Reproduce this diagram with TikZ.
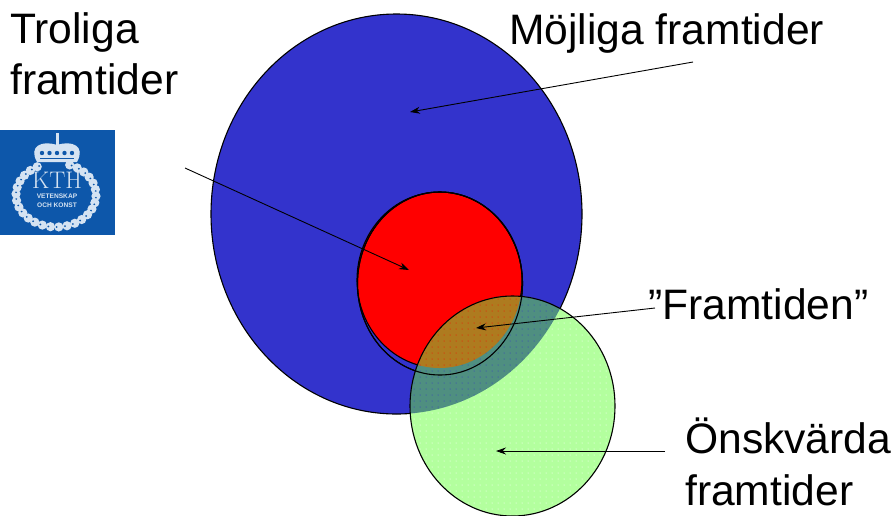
\documentclass[tikz,border=0pt]{standalone}
\usepackage{fontspec}
\setmainfont{Liberation Sans}
\usepackage{tikz}
\usetikzlibrary{
  arrows.meta,
  patterns.meta
}
\definecolor{futBlue}{HTML}{3333CC}
\definecolor{futRed}{HTML}{FF0000}
\definecolor{futGreen}{HTML}{B3FF9E}
\definecolor{futTeal}{HTML}{4F8F80}
\definecolor{futBrown}{HTML}{AE7B1F}
\definecolor{kthBlue}{HTML}{0D57AA}
\definecolor{kthPale}{HTML}{D5E3F2}

\begin{document}
\begin{tikzpicture}[x=1pt,y=-1pt,
  setline/.style={draw=black, line width=1.1pt},
  pointer/.style={draw=black, line width=0.9pt, -{Stealth[length=10pt,width=7pt]}},
  bigtext/.style={font=\fontsize{42.6}{51}\selectfont, anchor=base west, align=left, inner sep=0pt},
  crest/.style={text=kthPale, inner sep=0pt}]
  \useasboundingbox (0,0) rectangle (893,515);
  \clip (0,0) rectangle (893,515);

  % the three sets
  \path[fill=futBlue, setline] (396.5,214) ellipse [x radius=185.5, y radius=200];
  \path[fill=futRed] (439.5,280) ellipse [x radius=82.5, y radius=88];
  \draw[setline] (439.5,280) ellipse [x radius=82.5, y radius=88];
  \draw[setline] (440,283.5) ellipse [x radius=82.5, y radius=91.5];
  \path[fill=futGreen] (512.5,406) ellipse [x radius=102.5, y radius=110];
  \path[pattern={Dots[distance=6pt,radius=0.5pt]}, pattern color=white]
    (512.5,406) ellipse [x radius=102.5, y radius=110];

  % overlaps
  \begin{scope}
    \clip (396.5,214) ellipse [x radius=185.5, y radius=200];
    \clip (512.5,406) ellipse [x radius=102.5, y radius=110];
    \fill[futTeal] (300,250) rectangle (640,450);
    \fill[pattern={Dots[distance=6pt,radius=0.5pt]}, pattern color=futBlue] (300,250) rectangle (640,450);
  \end{scope}
  \begin{scope}
    \clip (439.5,280) ellipse [x radius=82.5, y radius=88];
    \clip (512.5,406) ellipse [x radius=102.5, y radius=110];
    \fill[futBrown] (300,250) rectangle (640,450);
    \fill[pattern={Dots[distance=6pt,radius=0.5pt]}, pattern color=futRed] (300,250) rectangle (640,450);
  \end{scope}

  \draw[setline] (440,283.5) ellipse [x radius=82.5, y radius=91.5];
  \draw[setline] (512.5,406) ellipse [x radius=102.5, y radius=110];

  % labels
  \node[bigtext] (troliga) at (10,43) {Troliga};
  \node[bigtext] (troliga2) at (10,94) {framtider};
  \node[bigtext] (mojliga) at (509,44) {Möjliga framtider};
  \node[bigtext] (framtiden) at (648,319) {”Framtiden”};
  \node[bigtext] (onskvarda) at (685,453) {Önskvärda};
  \node[bigtext] (onskvarda2) at (685,505) {framtider};

  % arrows
  \coordinate (aTroliga) at (185,168);
  \coordinate (tTroliga) at (409,270);
  \coordinate (aMojliga) at (693,62);
  \coordinate (tMojliga) at (410,112);
  \coordinate (aFramtid) at (655,308);
  \coordinate (tFramtid) at (476,328);
  \coordinate (aOnsk) at (665,451);
  \coordinate (tOnsk) at (496,451);
  \foreach \a/\b in {aTroliga/tTroliga,aMojliga/tMojliga,aFramtid/tFramtid,aOnsk/tOnsk} {
    \draw[pointer] (\a) -- (\b);
  }

  % logo
  \fill[kthBlue] (0,130) rectangle (115,235);
  \foreach \t in {-70,-58,...,250} {
    \fill[kthPale] ({56+40*cos(\t)},{195+32*sin(\t)}) circle (4.6);
    \fill[kthBlue] ({56+40*cos(\t+3)},{195+32*sin(\t+3)}) circle (1);
    \fill[kthBlue] ({56+44.5*cos(\t+8)},{195+36.5*sin(\t+8)}) circle (0.9);
  }
  % crown
  \fill[kthPale] (37,162) .. controls (28,146) and (42,140) .. (57,145)
    .. controls (72,140) and (86,146) .. (77,162) -- cycle;
  \foreach \x in {42,49.5,57,64.5,72} {
    \fill[kthBlue] (\x,153) circle (2.2);
  }
  \fill[kthBlue] (40,158) rectangle (74,159.2);
  \fill[kthPale] (55.5,133) rectangle (58.5,146);
  \node[crest, font=\fontfamily{lmr}\fontsize{24}{24}\selectfont] (kth) at (57,180) {KTH};
  \node[crest, font=\bfseries\fontsize{6.6}{7}\selectfont] (vet) at (57,196) {VETENSKAP};
  \node[crest, font=\bfseries\fontsize{6.6}{7}\selectfont] (och) at (57,205) {OCH KONST};
\end{tikzpicture}
\end{document}
